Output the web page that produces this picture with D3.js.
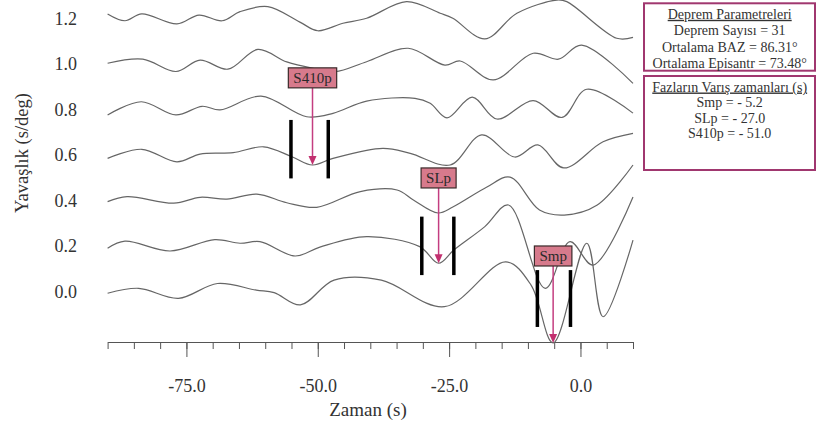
<!DOCTYPE html>
<html>
<head>
<meta charset="utf-8">
<script src="https://cdn.jsdelivr.net/npm/d3@7"></script>
<style>
  body { margin: 0; background: #fff; }
  svg { display: block; font-family: 'Liberation Serif', 'Times New Roman', serif; }
</style>
</head>
<body>
<svg id="chart" width="817" height="421"></svg>
<script>
// tick values
const slownessTicks = [0.0, 0.2, 0.4, 0.6, 0.8, 1.0, 1.2]
const timeMajorTicks = [-75, -50, -25, 0]
const timeMinorTicks = [-90, -85, -80, -75, -70, -65, -60, -55, -50, -45, -40, -35, -30, -25, -20, -15, -10, -5, 0, 5, 10]

// stacked traces, [time (s), slowness (s/deg)]
const trace00 = [[-90, -0.007], [-84.1, 0.015], [-76.5, -0.029], [-69.1, 0.036], [-61.7, 0.007], [-58.3, -0.004], [-53.3, -0.058], [-46.9, 0.051], [-37.9, 0.051], [-25.9, -0.066], [-14.2, 0.131], [-9.4, 0.029], [-5.2, -0.225], [1.2, 0.213], [4.3, -0.110], [10, 0.227]]
const trace02 = [[-90, 0.191], [-86.7, 0.222], [-78.1, 0.179], [-69.6, 0.229], [-64.8, 0.213], [-61.0, 0.220], [-54.3, 0.157], [-49.6, 0.196], [-40.7, 0.242], [-30.6, 0.198], [-27.0, 0.125], [-24.1, 0.183], [-18.2, 0.286], [-13.7, 0.381], [-6.7, 0.015], [-2.0, 0.220], [2.4, 0.117], [10, 0.416]]
const trace04 = [[-90, 0.396], [-86.3, 0.418], [-77.4, 0.389], [-72.4, 0.415], [-67.3, 0.407], [-61.6, 0.429], [-55.9, 0.391], [-50.2, 0.371], [-41.9, 0.440], [-34.9, 0.447], [-31.8, 0.403], [-27.1, 0.346], [-24.3, 0.372], [-17.8, 0.460], [-13.4, 0.504], [-7.8, 0.359], [-3.1, 0.337], [3.2, 0.381], [10, 0.557]]
const trace06 = [[-90, 0.586], [-83.5, 0.626], [-76.8, 0.571], [-72.4, 0.605], [-66.1, 0.611], [-60.3, 0.637], [-54.9, 0.593], [-51.0, 0.557], [-47.1, 0.586], [-37.6, 0.630], [-32.4, 0.608], [-24.8, 0.557], [-18.8, 0.689], [-12.5, 0.592], [-8.1, 0.645], [-3.2, 0.544], [4.3, 0.659], [10, 0.696]]
const trace08 = [[-90, 0.777], [-83.6, 0.835], [-77.0, 0.777], [-72.0, 0.815], [-68.6, 0.799], [-60.8, 0.860], [-52.1, 0.769], [-47.1, 0.784], [-40.7, 0.838], [-31.5, 0.850], [-28.6, 0.828], [-25.4, 0.764], [-20.6, 0.855], [-15.9, 0.759], [-9.0, 0.840], [-3.5, 0.766], [1.2, 0.890], [10, 0.785]]
const trace10 = [[-90, 1.004], [-83.3, 1.022], [-77.0, 0.968], [-72.4, 1.018], [-67.1, 0.978], [-61.4, 1.065], [-55.9, 1.010], [-50.9, 0.982], [-46.7, 0.967], [-40.7, 1.011], [-32.8, 1.070], [-25.8, 0.996], [-22.9, 1.014], [-16.6, 0.931], [-9.0, 1.048], [-4.2, 1.022], [0.2, 1.084], [10, 0.916]]
const trace12 = [[-90, 1.221], [-86.7, 1.191], [-83.5, 1.221], [-76.8, 1.177], [-72.6, 1.216], [-68.2, 1.191], [-64.8, 1.231], [-59.5, 1.253], [-53.4, 1.185], [-50.0, 1.147], [-45.2, 1.180], [-40.7, 1.202], [-33.1, 1.275], [-26.7, 1.224], [-24.3, 1.202], [-18.2, 1.111], [-12.1, 1.224], [-4.5, 1.282], [-2.6, 1.275], [6.9, 1.114], [10, 1.118]]
const traces = [trace00, trace02, trace04, trace06, trace08, trace10, trace12]

// picked phases
const phaseNames = ['Smp', 'SLp', 'S410p']
const phaseTimes = [-5.2, -27.0, -51.0]
const phaseTips = [-0.225, 0.125, 0.557]
const phaseLabelY = [0.157, 0.5, 0.94]
const windowStart = [-8.2, -30.2, -55.1]
const windowEnd = [-1.9, -24.1, -48.0]
const windowLow = [-0.155, 0.073, 0.498]
const windowHigh = [0.095, 0.330, 0.755]

// info boxes
const paramTitle = 'Deprem Parametreleri'
const paramLines = ['Deprem Sayısı = 31', 'Ortalama BAZ = 86.31°', 'Ortalama Episantr = 73.48°']
const arrivalTitle = 'Fazların Varış zamanları (s)'
const arrivalLines = ['Smp = - 5.2', 'SLp = - 27.0', 'S410p = - 51.0']

const svg = d3.select('#chart')
const x = d3.scaleLinear().domain([-90, 10]).range([107.6, 633])
const y = d3.scaleLinear().domain([0, 1.2]).range([291.7, 18.7])
const SERIF = "'Liberation Serif', 'Times New Roman', serif"
const TEXT = '#333'

/**
 * Draws the time axis (minor + major ticks) and the slowness labels.
 */
function drawAxes () {
  const minor = svg.append('g')
    .attr('transform', 'translate(0,342)')
    .call(d3.axisBottom(x).tickValues(timeMinorTicks).tickSize(7).tickSizeOuter(0).tickFormat(''))
  minor.select('.domain').attr('stroke', '#555')
  minor.selectAll('.tick line').attr('stroke', '#555')

  const major = svg.append('g')
    .attr('transform', 'translate(0,342)')
    .call(d3.axisBottom(x).tickValues(timeMajorTicks).tickSize(15).tickPadding(22)
      .tickFormat((d) => d.toFixed(1)))
    .attr('font-family', SERIF)
    .attr('font-size', 18)
  major.select('.domain').remove()
  major.selectAll('.tick line').attr('stroke', '#555')
  major.selectAll('.tick text').attr('fill', TEXT)

  const left = svg.append('g')
    .attr('transform', 'translate(80,0)')
    .call(d3.axisLeft(y).tickValues(slownessTicks).tickSize(0).tickPadding(3)
      .tickFormat((d) => d.toFixed(1)))
    .attr('font-family', SERIF)
    .attr('font-size', 18)
  left.select('.domain').remove()
  left.selectAll('.tick text').attr('fill', TEXT)

  svg.append('text')
    .attr('x', 368).attr('y', 416)
    .attr('text-anchor', 'middle')
    .attr('font-size', 19).attr('fill', TEXT)
    .text('Zaman (s)')

  svg.append('text')
    .attr('transform', 'translate(28,153) rotate(-90)')
    .attr('text-anchor', 'middle')
    .attr('font-size', 18.5).attr('fill', TEXT)
    .text('Yavaşlık (s/deg)')
}

/**
 * Draws every stacked trace as a smooth line.
 */
function drawTraces () {
  const line = d3.line()
    .x((d) => x(d[0]))
    .y((d) => y(d[1]))
    .curve(d3.curveCatmullRom.alpha(0.5))

  svg.append('g')
    .selectAll('path')
    .data(traces)
    .join('path')
    .attr('d', line)
    .attr('fill', 'none')
    .attr('stroke', '#666')
    .attr('stroke-width', 1.2)
}

/**
 * Draws the window bars, the arrows and the labelled boxes of each phase.
 */
function drawPhases () {
  const phases = phaseNames.map((name, i) => ({
    name,
    t: phaseTimes[i],
    tip: phaseTips[i],
    labelY: phaseLabelY[i],
    t0: windowStart[i],
    t1: windowEnd[i],
    lo: windowLow[i],
    hi: windowHigh[i]
  }))

  const g = svg.append('g')
    .selectAll('g')
    .data(phases)
    .join('g')

  g.selectAll('.bar')
    .data((d) => [d.t0, d.t1].map((t) => ({ t, lo: d.lo, hi: d.hi })))
    .join('line')
    .attr('class', 'bar')
    .attr('x1', (d) => x(d.t)).attr('x2', (d) => x(d.t))
    .attr('y1', (d) => y(d.hi)).attr('y2', (d) => y(d.lo))
    .attr('stroke', '#000')
    .attr('stroke-width', 3.5)

  g.append('line')
    .attr('x1', (d) => x(d.t)).attr('x2', (d) => x(d.t))
    .attr('y1', (d) => y(d.labelY) + 10)
    .attr('y2', (d) => y(d.tip) - 7)
    .attr('stroke', '#c43d80')
    .attr('stroke-width', 1.5)

  g.append('path')
    .attr('d', (d) => {
      const tx = x(d.t)
      const ty = y(d.tip)
      return `M${tx - 4},${ty - 9}L${tx + 4},${ty - 9}L${tx},${ty}Z`
    })
    .attr('fill', '#c2306f')

  const label = g.append('text')
    .attr('x', (d) => x(d.t))
    .attr('y', (d) => y(d.labelY) + 5)
    .attr('text-anchor', 'middle')
    .attr('font-size', 15)
    .attr('fill', '#2a2a2a')
    .text((d) => d.name)

  label.each(function () {
    const w = this.getComputedTextLength() + 10
    const cx = +this.getAttribute('x')
    const cy = +this.getAttribute('y') - 5
    d3.select(this.parentNode).insert('rect', 'text')
      .attr('x', cx - w / 2).attr('y', cy - 10)
      .attr('width', w).attr('height', 20)
      .attr('fill', '#d77a8c')
      .attr('stroke', '#3a2a2a')
      .attr('stroke-width', 1.2)
  })
}

/**
 * Draws one framed text box with an underlined title.
 *
 * @param {number} top Top of the frame
 * @param {number} height Height of the frame
 * @param {string} title Underlined first line
 * @param {string[]} lines Other lines
 * @param {number} step Line spacing
 */
function drawInfoBox (top, height, title, lines, step) {
  const cx = 729.7
  svg.append('rect')
    .attr('x', 644).attr('y', top)
    .attr('width', 171).attr('height', height)
    .attr('fill', '#fff')
    .attr('stroke', '#a0376f')
    .attr('stroke-width', 2)

  svg.append('text')
    .attr('x', cx).attr('y', top + 15.5)
    .attr('text-anchor', 'middle')
    .attr('font-size', 14).attr('fill', TEXT)
    .attr('text-decoration', 'underline')
    .text(title)

  svg.append('g')
    .selectAll('text')
    .data(lines)
    .join('text')
    .attr('x', cx)
    .attr('y', (d, i) => top + 15.5 + step * (i + 1))
    .attr('text-anchor', 'middle')
    .attr('font-size', 14).attr('fill', TEXT)
    .text((d) => d)
}

drawAxes()
drawTraces()
drawPhases()
drawInfoBox(3.3, 67.4, paramTitle, paramLines, 16.5)
drawInfoBox(76, 94, arrivalTitle, arrivalLines, 15.5)
</script>
</body>
</html>
